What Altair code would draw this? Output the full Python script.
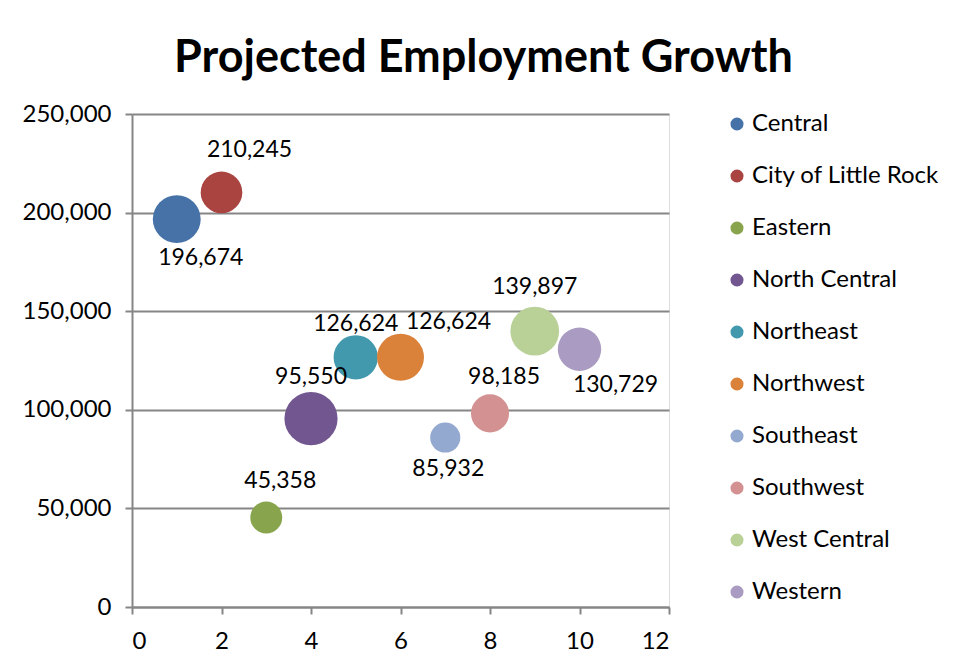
import altair as alt
import pandas as pd

regions = ["Central", "City of Little Rock", "Eastern", "North Central", "Northeast",
           "Northwest", "Southeast", "Southwest", "West Central", "Western"]
x_values = [1, 2, 3, 4, 5, 6, 7, 8, 9, 10]
employment = [196674, 210245, 45358, 95550, 126624, 126624, 85932, 98185, 139897, 130729]
bubble_size = [729, 552, 324, 900, 625, 702, 289, 462, 756, 600]

colors = ["#4672A8", "#A94441", "#88A54E", "#715690", "#4299AE",
          "#DA823A", "#93A9D0", "#D49191", "#B9D097", "#A99BC1"]

# label placement (pixel offsets from bubble centre), style only
label_offsets = {
    "Central": (24, 39),
    "City of Little Rock": (28, -42),
    "Eastern": (14, -37),
    "North Central": (0, -42),
    "Northeast": (0, -33),
    "Northwest": (48, -35),
    "Southeast": (3, 31),
    "Southwest": (14, -36),
    "West Central": (0, -44),
    "Western": (36, 36),
}

df = pd.DataFrame({"region": regions, "x": x_values, "employment": employment, "size": bubble_size})

FONT = "Lato"
GRID = "#868686"

x_enc = alt.X("x:Q", scale=alt.Scale(domain=[0, 12], nice=False),
              axis=alt.Axis(values=[0, 2, 4, 6, 8, 10, 12], title=None, grid=False,
                            domainColor=GRID, domainWidth=2, tickColor=GRID, tickWidth=2,
                            tickSize=7, labelPadding=15, labelFontSize=24, labelFont=FONT,
                            labelColor="black"))
y_enc = alt.Y("employment:Q", scale=alt.Scale(domain=[0, 250000], nice=False),
              axis=alt.Axis(values=[0, 50000, 100000, 150000, 200000, 250000],
                            labelExpr="format(datum.value, ',')",
                            title=None, grid=True, gridColor=GRID, gridWidth=2,
                            domainColor=GRID, domainWidth=2, tickColor=GRID, tickWidth=2,
                            tickSize=7, labelPadding=14, labelFontSize=24, labelFont=FONT,
                            labelColor="black"))

base = alt.Chart(df)

bubbles = base.mark_circle(opacity=1, strokeWidth=0).encode(
    x=x_enc,
    y=y_enc,
    size=alt.Size("size:Q", scale=alt.Scale(domain=[0, 900], range=[0, 2827]), legend=None),
    color=alt.Color("region:N", sort=regions,
                    scale=alt.Scale(domain=regions, range=colors),
                    legend=alt.Legend(title=None, orient="none", legendX=593, legendY=-2,
                                      symbolType="circle", symbolSize=170, symbolStrokeWidth=0,
                                      labelFontSize=24, labelFont=FONT, labelColor="black",
                                      rowPadding=28, labelOffset=3, labelLimit=300)),
    order=alt.Order("x:Q"),
)

layers = [bubbles]
for name in regions:
    dx, dy = label_offsets[name]
    layers.append(
        base.transform_filter(alt.datum.region == name)
        .mark_text(dx=dx, dy=dy, fontSize=23, font=FONT, color="black", baseline="middle", align="center")
        .encode(x=x_enc, y=y_enc, text=alt.Text("employment:Q", format=","))
    )

chart = alt.layer(*layers).properties(
    width=537,
    height=493,
    title=alt.TitleParams("Projected Employment Growth", fontSize=45, font=FONT, fontWeight="bold",
                          color="black", anchor="middle", dx=83, offset=21),
    autosize=alt.AutoSizeParams(type="none"),
    padding={"left": 124, "top": 106, "right": 286, "bottom": 56},
).configure_view(stroke=None).configure(background="white")

chart.save("out.html", embed_options={"renderer": "svg", "actions": False})
